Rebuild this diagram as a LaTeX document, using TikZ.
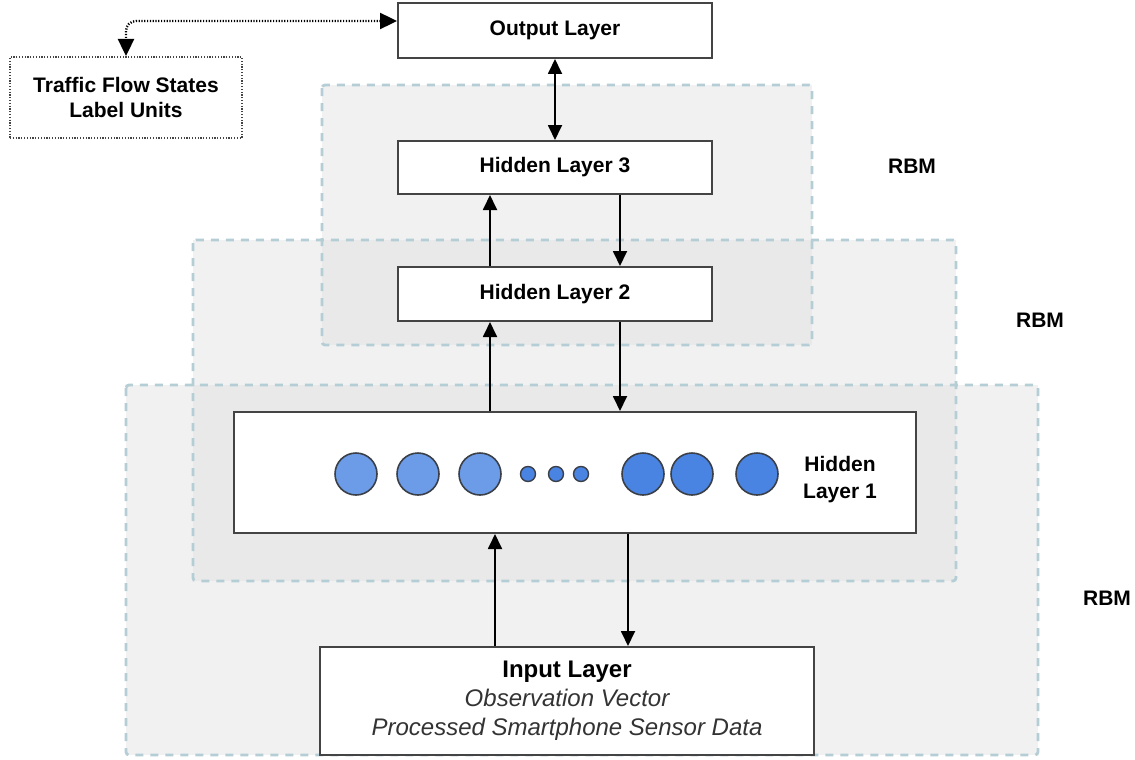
\documentclass[tikz,border=0pt]{standalone}
\usepackage{fontspec}
\setmainfont{Liberation Sans}
\usetikzlibrary{arrows.meta,calc}
\definecolor{regfill}{HTML}{F1F1F1}
\definecolor{regover}{HTML}{E9E9E9}
\definecolor{regedge}{HTML}{B5CDD4}
\definecolor{boxedge}{HTML}{444444}
\definecolor{itxt}{HTML}{333333}
\definecolor{nlight}{HTML}{6C9CE8}
\definecolor{ndark}{HTML}{4A84E2}
\definecolor{nedge}{HTML}{3A3F48}
\tikzset{
  x=1pt, y=-1pt,
  layerbox/.style={draw=boxedge, line width=2pt, fill=white, inner sep=0pt, align=center,
    font=\fontsize{21}{25}\selectfont\bfseries},
  region/.style={draw=regedge, line width=2.8pt, dash pattern=on 8pt off 7pt, rounded corners=3pt},
  arr/.style={line width=1.8pt, -{Triangle[length=15pt,width=14pt]}},
  darr/.style={line width=1.8pt, {Triangle[length=15pt,width=14pt]}-{Triangle[length=15pt,width=14pt]}},
  dotarr/.style={line width=2.4pt, dash pattern=on 1.2pt off 1.6pt, rounded corners=10pt,
    {Triangle[length=17pt,width=16pt]}-{Triangle[length=17pt,width=16pt]}},
  neuron/.style={circle, draw=nedge, line width=1.6pt, minimum size=42pt, inner sep=0pt},
  dotn/.style={circle, draw=nedge, line width=1.4pt, fill=ndark, minimum size=15pt, inner sep=0pt},
  rbm/.style={font=\fontsize{21}{25}\selectfont\bfseries}
}
\begin{document}
\begin{tikzpicture}
\useasboundingbox (0,0) rectangle (1135,760);
% regions (fills)
\fill[regfill] (126,385) rectangle (1038,755);
\fill[regfill] (193,240) rectangle (956,581);
\fill[regfill] (322,85) rectangle (812,345);
\fill[regover] (322,240) rectangle (812,345);
\fill[regover] (193,385) rectangle (956,581);
% region borders
\draw[region] (126,385) rectangle (1038,755);
\draw[region] (193,240) rectangle (956,581);
\draw[region] (322,85) rectangle (812,345);
% RBM labels
\node[rbm] (rbm3) at (912,166) {RBM};
\node[rbm] (rbm2) at (1040,320) {RBM};
\node[rbm] (rbm1) at (1107,598) {RBM};
% layer boxes
\node[layerbox, minimum width=314pt, minimum height=55pt] (out) at (555,30.5) {Output Layer};
\node[layerbox, minimum width=314pt, minimum height=53pt] (h3) at (555,167.5) {Hidden Layer 3};
\node[layerbox, minimum width=314pt, minimum height=54pt] (h2) at (555,294) {Hidden Layer 2};
\node[layerbox, minimum width=682pt, minimum height=121pt] (h1) at (575,472.5) {};
\node[layerbox, minimum width=494pt, minimum height=108pt, font=\fontsize{24}{29}\selectfont] (in) at (567,701)
  {\textbf{Input Layer}\\ \textcolor{itxt}{\itshape Observation Vector}\\ \textcolor{itxt}{\itshape Processed Smartphone Sensor Data}};
\node[draw=boxedge, line width=2pt, dash pattern=on 1.2pt off 1.6pt, fill=white, minimum width=232pt, minimum height=81pt, align=center,
  font=\fontsize{21}{25}\selectfont\bfseries] (tf) at (126,97.5) {Traffic Flow States\\Label Units};
% neurons
\node[neuron, fill=nlight] (n1) at (356,474) {};
\node[neuron, fill=nlight] (n2) at (418,474) {};
\node[neuron, fill=nlight] (n3) at (480,474) {};
\node[dotn] (d1) at (528,474) {};
\node[dotn] (d2) at (556,474) {};
\node[dotn] (d3) at (581,474) {};
\node[neuron, fill=ndark] (n4) at (643,474) {};
\node[neuron, fill=ndark] (n5) at (692,474) {};
\node[neuron, fill=ndark] (n6) at (757,474) {};
\node[font=\fontsize{21}{27}\selectfont\bfseries, align=center] (h1lab) at (840,480) {Hidden\\Layer 1};
% connectors
\draw[darr] (out.south) -- (h3.north);
\draw[arr] ([xshift=-65pt]h2.north) -- ([xshift=-65pt]h3.south);
\draw[arr] ([xshift=65pt]h3.south) -- ([xshift=65pt]h2.north);
\draw[arr] ([xshift=-65pt]h2.south |- h1.north) -- ([xshift=-65pt]h2.south);
\draw[arr] ([xshift=65pt]h2.south) -- ([xshift=65pt]h2.south |- h1.north);
\draw[arr] ([xshift=-72pt]in.north) -- ([xshift=-72pt]in.north |- h1.south);
\draw[arr] ([xshift=61pt]in.north |- h1.south) -- ([xshift=61pt]in.north);
\draw[dotarr] ([yshift=9.5pt]out.west) -| (tf.north);
\end{tikzpicture}
\end{document}
